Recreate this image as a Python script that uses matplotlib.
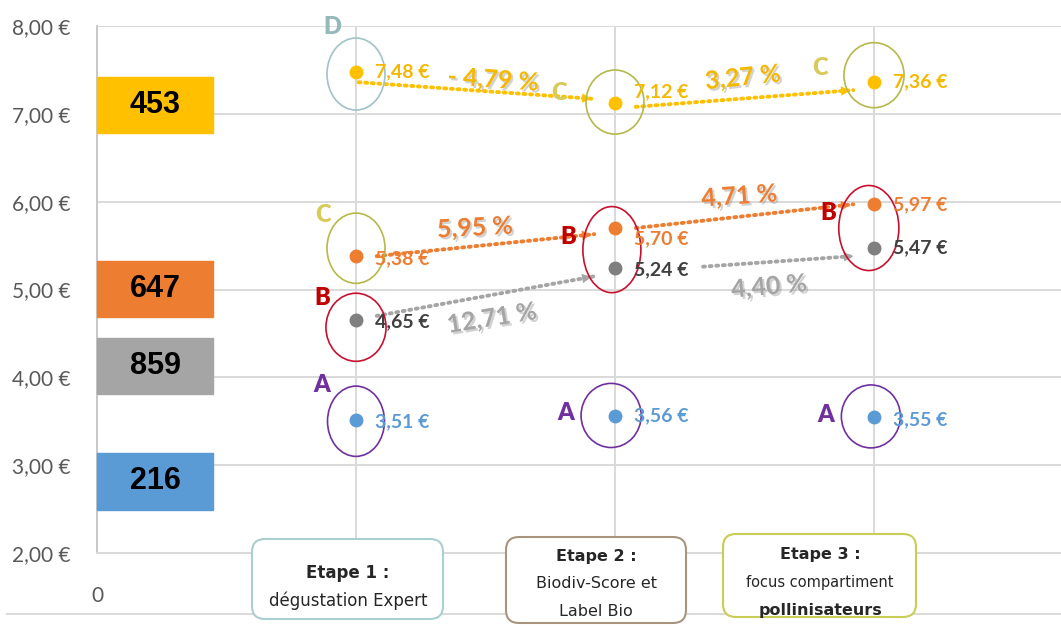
import matplotlib
matplotlib.use("Agg")
import matplotlib.pyplot as plt
import matplotlib.patheffects as pe
from matplotlib.patches import Ellipse, Rectangle, FancyBboxPatch
from matplotlib.lines import Line2D
from matplotlib.ticker import FuncFormatter, FixedLocator
from matplotlib.transforms import IdentityTransform

# ---- données ----
etapes = [1, 2, 3]
prix_a = [3.51, 3.56, 3.55]        # bleu (216)
prix_gris = [4.65, 5.24, 5.47]     # gris (859)
prix_orange = [5.38, 5.70, 5.97]   # orange (647)
prix_or = [7.48, 7.12, 7.36]       # jaune (453)

effectifs = ['453', '647', '859', '216']
effectifs_centre = [7.10, 5.01, 4.13, 2.815]

variations_or = ['- 4,79 %', '3,27 %']
variations_orange = ['5,95 %', '4,71 %']
variations_gris = ['12,71 %', '4,40 %']

titres_etapes = ['Etape 1 :', 'Etape 2 :', 'Etape 3 :']

OR = '#FFC000'
OR_TXT = '#F5B800'
ORANGE = '#ED7D31'
GRIS = '#A5A5A5'
BLEU = '#5B9BD5'
ROUGE = '#C8102E'
VIOLET = '#7030A0'
OLIVE = '#B5B84A'
TEAL = '#9FC3C6'

W, H = 1061, 635
fig = plt.figure(figsize=(W / 100, H / 100), dpi=100)
ax = fig.add_axes([97 / W, 1 - 553 / H, 1 - 97 / W, (553 - 26) / H])
ax.set_xlim(0, (W - 97) / 259)
ax.set_ylim(2, 8)

ax.yaxis.set_major_locator(FixedLocator([2, 3, 4, 5, 6, 7, 8]))
ax.yaxis.set_major_formatter(FuncFormatter(lambda v, p: f"{v:.2f}".replace('.', ',') + " €"))
ax.set_xticks([0, 1, 2, 3])
ax.set_xticklabels(['0', '', '', ''])
ax.tick_params(length=0, labelcolor='#595959', labelsize=15)
ax.tick_params(axis='y', pad=19)
ax.tick_params(axis='x', pad=24)
for t in ax.get_xticklabels() + ax.get_yticklabels():
    t.set_family('Lato')
ax.grid(color='#D9D9D9', lw=1.4)
ax.set_axisbelow(True)
for s in ['top', 'right']:
    ax.spines[s].set_visible(False)
ax.spines['left'].set_color('#C8C8C8')
ax.spines['bottom'].set_color('#D9D9D9')
ax.spines['left'].set_linewidth(1.4)
ax.spines['bottom'].set_linewidth(1.4)

# boîtes d'effectifs à gauche
for lab, yc, c in zip(effectifs, effectifs_centre, [OR, ORANGE, GRIS, BLEU]):
    ax.add_patch(Rectangle((0, yc - 0.32), 0.448, 0.64, color=c, zorder=4, clip_on=False))
    ax.text(0.224, yc, lab, ha='center', va='center', fontsize=22, fontweight='bold',
            family='Liberation Sans', color='black', zorder=5)

# flèches pointillées
def fleche(x0, y0, x1, y1, c):
    ax.plot([x0, x1], [y0, y1], color=c, lw=2.8, linestyle=(0, (0.5, 1.2)),
            dash_capstyle='round', zorder=3)
    ax.annotate('', xy=(x1, y1), xytext=(x1 - (x1 - x0) * 0.03, y1 - (y1 - y0) * 0.03),
                arrowprops=dict(arrowstyle='-|>', color=c, lw=0, mutation_scale=17), zorder=3)

decal_or = [(-0.12, 0.05), (-0.04, -0.09)]
decal_orange = [(0.0, -0.07), (0.0, 0.0)]
decal_gris = [(0.05, -0.09), (0.02, -0.09)]
for serie, decal, c in [(prix_or, decal_or, OR), (prix_orange, decal_orange, ORANGE),
                        (prix_gris, decal_gris, GRIS)]:
    for i in range(2):
        dx0 = 0.08 if not (serie is prix_or and i == 0) else 0.01
        if serie is prix_gris and i == 1:
            dx0 = 0.34
        fleche(etapes[i] + dx0, serie[i] + decal[i][0],
               etapes[i + 1] - 0.08, serie[i + 1] + decal[i][1], c)

# points
for serie, c in [(prix_a, BLEU), (prix_gris, '#7F7F7F'), (prix_orange, ORANGE), (prix_or, OR)]:
    ax.plot(etapes, serie, 'o', ms=9, color=c, zorder=6)

# étiquettes de valeurs
def euro(v):
    return f"{v:.2f}".replace('.', ',') + " €"

for serie, c, dys in [(prix_a, BLEU, [-1, 0, -2]), (prix_gris, '#404040', [-1, -1, 0]),
                      (prix_orange, ORANGE, [-2, -8, 0]), (prix_or, OR_TXT, [0, 8, 0])]:
    for x, v, dy in zip(etapes, serie, dys):
        ax.annotate(euro(v), (x, v), xytext=(14, dy), textcoords='offset points',
                    ha='left', va='center', fontsize=14, fontweight='bold',
                    family='Lato', color=c, zorder=7)

# pourcentages
ombre = [pe.SimplePatchShadow(offset=(1.5, -1.5), shadow_rgbFace='#909090', alpha=0.4), pe.Normal()]
pos_pct = [
    (variations_or, OR_TXT, [(1.53, 7.385, -4), (2.494, 7.41, 6)]),
    (variations_orange, ORANGE, [(1.46, 5.70, 3), (2.48, 6.06, 4)]),
    (variations_gris, GRIS, [(1.525, 4.67, 9), (2.595, 5.03, 5)]),
]
for textes, c, pos in pos_pct:
    for s, (x, y, r) in zip(textes, pos):
        ax.text(x, y, s, ha='center', va='center', fontsize=18, fontweight='bold',
                family='Lato', color=c, rotation=r, path_effects=ombre, zorder=7)

# ellipses
ellipses = [
    (1.0, 7.453, 0.224, 0.82, TEAL), (2.0, 7.134, 0.224, 0.73, OLIVE), (3.0, 7.44, 0.232, 0.74, OLIVE),
    (1.0, 5.47, 0.224, 0.80, OLIVE), (1.0, 4.57, 0.232, 0.775, ROUGE), (1.988, 5.454, 0.224, 0.98, ROUGE),
    (2.98, 5.70, 0.232, 0.968, ROUGE), (1.0, 3.50, 0.22, 0.80, VIOLET), (1.985, 3.566, 0.232, 0.73, VIOLET),
    (2.988, 3.555, 0.228, 0.717, VIOLET),
]
for x, y, w, h, c in ellipses:
    ax.add_patch(Ellipse((x, y), w, h, fill=False, ec=c, lw=1.2, zorder=4))

# lettres
lettres = [
    ('D', 0.907, 7.99, '#93B9BA'), ('C', 1.784, 7.237, '#D9CB5A'), ('C', 2.792, 7.522, '#D9CB5A'),
    ('C', 0.873, 5.848, '#D9CB5A'), ('B', 1.819, 5.597, '#C00000'), ('B', 2.822, 5.871, '#C00000'),
    ('B', 0.869, 4.903, '#C00000'), ('A', 0.869, 3.913, VIOLET), ('A', 1.811, 3.594, VIOLET),
    ('A', 2.815, 3.571, VIOLET),
]
for s, x, y, c in lettres:
    ax.text(x, y, s, ha='center', va='center', fontsize=17, fontweight='heavy', family='Lato',
            color=c, zorder=7, clip_on=False)

# ligne du bas
fig.add_artist(Line2D([7 / W, 1], [1 - 614 / H, 1 - 614 / H], color='#D9D9D9', lw=1.4, zorder=1))

# boîtes des étapes
boites = [(252, 539, 443, 619, '#A9CFCF'), (506, 537, 686, 623, '#A8957E'), (723, 534, 916, 617, '#C9CC55')]
for (x0, y0, x1, y1, c) in boites:
    fig.add_artist(FancyBboxPatch((x0, H - y1), x1 - x0, y1 - y0, boxstyle='round,pad=0,rounding_size=13',
                                  transform=IdentityTransform(), fc='white', ec=c, lw=1.5, zorder=2))

def ftxt(x, y, s, **kw):
    fig.text(x / W, 1 - y / H, s, ha='center', va='center', family='DejaVu Sans',
             color='#262626', zorder=3, **kw)

ftxt(348, 573, titres_etapes[0], fontsize=12, fontweight='bold')
ftxt(348, 601, 'dégustation Expert', fontsize=12)
ftxt(596, 557, titres_etapes[1], fontsize=11.5, fontweight='bold')
ftxt(596, 584, 'Biodiv-Score et', fontsize=11.5)
ftxt(596, 611, 'Label Bio', fontsize=11.5)
ftxt(820, 555, titres_etapes[2], fontsize=11.5, fontweight='bold')
ftxt(820, 583, 'focus compartiment', fontsize=10.5)
ftxt(820, 610, 'pollinisateurs', fontsize=11.5, fontweight='bold')

fig.savefig('out.png', dpi=100)
